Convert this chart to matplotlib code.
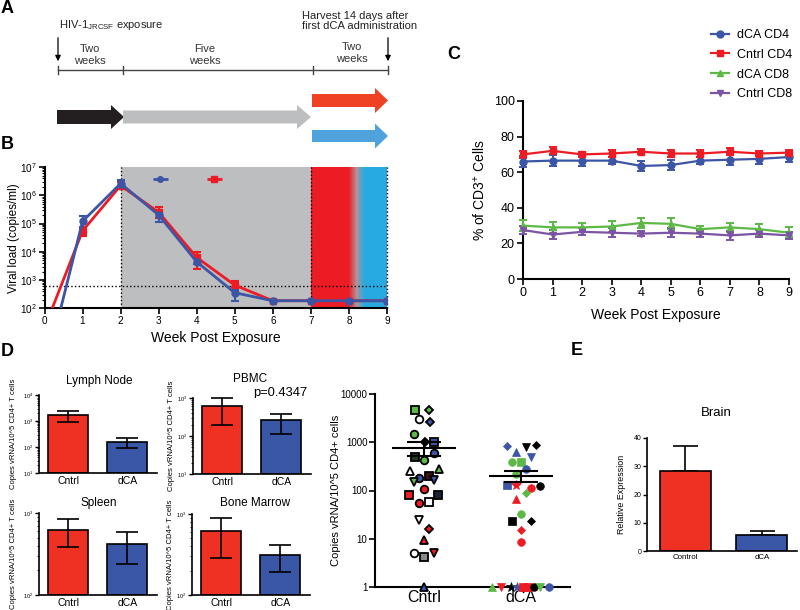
import numpy as np
import matplotlib
matplotlib.use('Agg')
import matplotlib.pyplot as plt
from matplotlib import patches
from matplotlib.lines import Line2D
from matplotlib.ticker import FuncFormatter, LogLocator, NullFormatter

plt.rcParams['font.family'] = ['Liberation Sans', 'DejaVu Sans']
plt.rcParams['mathtext.default'] = 'regular'

# colours
RED = '#ed1c24'
BLUE = '#3c55a5'
GREEN = '#5cb946'
PURPLE = '#7b55a4'
GRAY = '#bcbec0'
SKY = '#27aae1'
BAR_RED = '#ef3124'
BAR_BLUE = '#3a56a6'

# ---------------- data ----------------
# A) schematic
timeline_labels = ['Two\nweeks', 'Five\nweeks', 'Two\nweeks']

# B) viral load (copies/ml)
vl_weeks = [0, 1, 2, 3, 4, 5, 6, 7, 8, 9]
vl_cntrl = [20, 5.5e4, 2.2e6, 2.5e5, 6.3e3, 660, 185, 185, 185, 185]
vl_cntrl_lo = [20, 3.5e4, 1.8e6, 1.6e5, 2.5e3, 550, 185, 185, 185, 185]
vl_cntrl_hi = [20, 7.5e4, 3.0e6, 3.8e5, 1.0e4, 900, 185, 185, 185, 185]
vl_dca = [0.5, 1.2e5, 2.6e6, 2.0e5, 4.4e3, 355, 185, 185, 185, 185]
vl_dca_lo = [0.5, 7e4, 2.1e6, 1.1e5, 3.8e3, 185, 185, 185, 185, 185]
vl_dca_hi = [0.5, 1.9e5, 3.4e6, 2.8e5, 5.5e3, 440, 185, 185, 185, 185]
detect_limit = 600

# C) % of CD3+ cells
c_weeks = [0, 1, 2, 3, 4, 5, 6, 7, 8, 9]
dca_cd4 = [66, 66.5, 66.5, 66.5, 63.5, 64, 66.5, 67, 67.5, 68.5]
dca_cd4_err = [3, 3, 3, 2, 3, 3, 2, 3, 3, 3]
cntrl_cd4 = [70, 72, 70, 70.5, 71.5, 70.5, 70.5, 71.5, 70.5, 71]
cntrl_cd4_err = [2, 2, 1.5, 2, 1.5, 2, 2, 2, 1.5, 1.5]
dca_cd8 = [30, 29, 29, 29.5, 31.5, 31, 28, 29, 28, 26]
dca_cd8_err = [3, 3, 2.5, 3, 3, 3, 1.5, 2.5, 3, 3]
cntrl_cd8 = [27.5, 25, 26.5, 26, 25.5, 26, 25.5, 24.5, 25.5, 24.5]
cntrl_cd8_err = [2, 2.5, 2, 2.5, 1.5, 2.5, 2, 2.5, 2, 2]
c_labels = ['dCA CD4', 'Cntrl CD4', 'dCA CD8', 'Cntrl CD8']

# D) tissue vRNA bars
groups = ['Cntrl', 'dCA']
tissues = ['Lymph Node', 'PBMC', 'Spleen', 'Bone Marrow']
tissue_p = ['p=0.0111*', 'p=0.4347', 'p=0.5350', 'p=0.7086']
tissue_mean = [[1700, 155], [600, 260], [620, 418], [615, 310]]
tissue_lo = [[910, 92], [200, 110], [385, 240], [290, 190]]
tissue_hi = [[2400, 220], [1000, 380], [845, 585], [890, 415]]
tissue_ylim = [(10, 1e4), (10, 1e3), (100, 1e3), (100, 1e3)]

# D) scatter, copies vRNA/10^5 CD4+ cells
cntrl_vals = [4600, 4600, 3000, 2650, 1450, 1020, 1020, 600, 500, 425, 250, 275, 200, 178,
              147, 163, 110, 80, 80, 56, 59, 25, 15.6, 9.4, 5, 4.2, 5, 1]
cntrl_dx = [-0.09, 0.05, -0.05, 0.06, -0.10, 0.01, 0.10, 0.10, -0.09, 0.0, -0.14, 0.16, 0.05, -0.05,
            -0.10, 0.11, 0.0, -0.15, 0.15, -0.05, 0.05, -0.05, 0.05, 0.0, -0.10, 0.0, 0.10, 0.0]
cntrl_marks = ['s', 'D', 'o', 'D', 'o', 'D', 's', 'o', 's', 'o', '^', '^', 's', 'o',
               'v', 'v', 'o', 's', 's', 'o', 's', 'v', 'D', '^', 'o', 's', 'v', '^']
cntrl_cols = [GREEN, GREEN, 'white', BLUE, GREEN, 'black', BLUE, BLUE, '#1f3d1f', GREEN, 'white', GREEN,
              '#3a1212', BLUE, GREEN, BLUE, RED, RED, '#1a2233', RED, 'white', 'white', RED, RED,
              'white', '#8a8a8a', RED, BLUE]
dca_vals = [850, 630, 810, 870, 500, 390, 390, 277, 220, 130, 130, 115, 126, 87, 66, 32, 23, 23, 15, 8.7,
            1, 1, 1, 1, 1, 1, 1, 1, 1]
dca_dx = [-0.15, -0.05, 0.05, 0.15, 0.10, -0.10, 0.0, 0.05, -0.05, -0.15, -0.05, 0.10, 0.19, 0.05,
          -0.05, 0.0, -0.10, 0.10, 0.0, 0.0,
          -0.30, -0.21, -0.11, -0.04, 0.02, 0.07, 0.13, 0.19, 0.28]
dca_marks = ['D', '^', 'v', 'D', 'v', 'o', 's', 'o', 'o', 's', '*', 'o', 'o', 'D', '^', 'o', 's', 'D', 'D', 'o',
             '^', 'v', '*', '*', 's', 's', 'o', 'v', 'o']
dca_cols = [BLUE, BLUE, 'black', 'black', BLUE, GREEN, GREEN, BLUE, GREEN, BLUE, RED, RED, 'black', GREEN,
            RED, GREEN, 'black', 'black', RED, RED,
            GREEN, RED, 'black', BLUE, RED, RED, 'black', GREEN, BLUE]
scatter_mean = [760, 200]
scatter_lo = [510, 150]
scatter_hi = [1000, 250]
scatter_p = 'p=0.0487*'

# E) brain
brain_groups = ['Control', 'dCA']
brain_mean = [28.2, 5.5]
brain_err = [9.0, 1.7]
brain_p = 'p=0.0326*'

# ---------------- figure ----------------
W, H = 800, 610
fig = plt.figure(figsize=(8, 6.1), dpi=100)


def px_axes(left, top, right, bottom):
    # axes placed in pixel coordinates (origin top-left)
    return fig.add_axes([left / W, 1 - bottom / H, (right - left) / W, (bottom - top) / H])


def style_axes(ax, lw=1.5):
    for s in ['top', 'right']:
        ax.spines[s].set_visible(False)
    for s in ['left', 'bottom']:
        ax.spines[s].set_linewidth(lw)


# overlay for schematic and panel letters
bg = fig.add_axes([0, 0, 1, 1])
bg.set_xlim(0, W)
bg.set_ylim(H, 0)
bg.axis('off')

for letter, (x, y) in zip('ABCDE', [(1, 0), (1, 136), (447, 46), (1, 343), (571, 342)]):
    bg.text(x, y, letter, fontsize=13, fontweight='bold', ha='left', va='top')

# ---- A ----
bounds = [58, 123, 313, 388]
bg.plot([bounds[0], bounds[-1]], [70, 70], color='#444444', lw=1)
for bx in bounds:
    bg.plot([bx, bx], [66, 74], color='#444444', lw=1)
for txt, (x, y) in zip(timeline_labels, [(90, 55), (205, 55), (352, 53)]):
    bg.text(x, y, txt, fontsize=8, ha='center', va='center', color='#333333', linespacing=1.15)
bg.text(59, 25, 'HIV-1$_{JRCSF}$ exposure', fontsize=8, ha='left', va='center', color='#222222')
bg.text(302, 21, 'Harvest 14 days after\nfirst dCA administration', fontsize=8, ha='left',
        va='center', color='#222222', linespacing=1.1)
for ax_x in [58, 388]:
    bg.annotate('', xy=(ax_x, 64), xytext=(ax_x, 35),
                arrowprops=dict(arrowstyle='-|>', color='black', lw=0.9, mutation_scale=8))


def block_arrow(x0, x1, y, body, head, head_len, color):
    bg.add_patch(patches.FancyArrow(x0, y, x1 - x0, 0, width=body, head_width=head,
                                    head_length=head_len, length_includes_head=True,
                                    color=color, lw=0))


block_arrow(57, 124, 117, 14, 24, 13, '#231f20')
block_arrow(123, 311, 117, 13, 24, 14, GRAY)
block_arrow(312, 388, 100.5, 13, 25, 13, '#ef4123')
block_arrow(312, 388, 136, 12, 25, 13, '#4fa3dc')

# ---- B ----
axB = px_axes(44.5, 167, 387, 308.3)
axB.set_yscale('log')
axB.axvspan(2, 7, color=GRAY, lw=0, zorder=0)
# red -> greyish -> sky blue fade over the last two weeks
stops = np.array([matplotlib.colors.to_rgb(RED), (0.70, 0.58, 0.60), matplotlib.colors.to_rgb(SKY)])
edges = np.linspace(7, 9, 161)
for a, b in zip(edges[:-1], edges[1:]):
    t = np.clip(((a + b) / 2 - 8.0) / 0.4, 0, 1) * 2
    k = min(int(t), 1)
    col = stops[k] + (stops[k + 1] - stops[k]) * (t - k)
    axB.axvspan(a, b, color=col, lw=0, zorder=0)
for xv in [2, 7, 9]:
    axB.axvline(xv, color='black', ls=':', lw=1, clip_on=False, zorder=1)
axB.axhline(detect_limit, color='black', ls=':', lw=1, zorder=1)

for vals, lo, hi, col, mk in [(vl_cntrl, vl_cntrl_lo, vl_cntrl_hi, RED, 's'),
                              (vl_dca, vl_dca_lo, vl_dca_hi, BLUE, 'o')]:
    v = np.array(vals)
    axB.errorbar(vl_weeks, v, yerr=[v - np.array(lo), np.array(hi) - v], color=col, marker=mk,
                 ms=5, lw=2, elinewidth=1.5, capsize=3, capthick=1.5, zorder=3)
axB.errorbar([3.04], [3.7e6], xerr=0.2, color=BLUE, marker='o', ms=4, lw=2, capsize=0, zorder=3)
axB.errorbar([4.46], [3.7e6], xerr=0.2, color=RED, marker='s', ms=4, lw=2, capsize=0, zorder=3)

axB.set_xlim(0, 9)
axB.set_ylim(1e2, 1e7)
axB.set_xticks(range(10))
axB.yaxis.set_major_locator(LogLocator(base=10, numticks=10))
axB.yaxis.set_minor_locator(LogLocator(base=10, subs=np.arange(2, 10), numticks=10))
axB.yaxis.set_minor_formatter(NullFormatter())
style_axes(axB)
axB.tick_params(which='major', direction='out', length=4, width=1.2, labelsize=7.2, pad=1.5)
axB.tick_params(which='minor', direction='out', length=2, width=0.8)
axB.set_ylabel('Viral load (copies/ml)', fontsize=8.5)
axB.yaxis.set_label_coords(-0.088, 0.5)
axB.yaxis.label.set_va('center')
axB.set_xlabel('Week Post Exposure', fontsize=10)
axB.xaxis.set_label_coords(0.5, -0.21)
axB.xaxis.label.set_va('center')

# ---- C ----
axC = px_axes(523, 101, 789, 279)
c_series = [(dca_cd4, dca_cd4_err, BLUE, 'o'), (cntrl_cd4, cntrl_cd4_err, RED, 's'),
            (dca_cd8, dca_cd8_err, GREEN, '^'), (cntrl_cd8, cntrl_cd8_err, PURPLE, 'v')]
handles = []
for (vals, err, col, mk), lab in zip(c_series, c_labels):
    axC.errorbar(c_weeks, vals, yerr=err, color=col, marker=mk, ms=5, lw=1.6, elinewidth=1.4,
                 capsize=3, capthick=1.4, clip_on=False, zorder=3)
    handles.append(Line2D([], [], color=col, marker=mk, ms=5, lw=1.6, label=lab))
axC.set_xlim(0, 9)
axC.set_ylim(0, 100)
axC.set_xticks(range(10))
axC.set_yticks(range(0, 101, 20))
style_axes(axC)
axC.tick_params(direction='out', length=4, width=1.2, labelsize=9, pad=2)
axC.set_ylabel('% of CD3$^{+}$ Cells', fontsize=10)
axC.yaxis.set_label_coords(-0.162, 0.5)
axC.yaxis.label.set_va('center')
axC.set_xlabel('Week Post Exposure', fontsize=10)
axC.xaxis.set_label_coords(0.5, -0.2)
axC.xaxis.label.set_va('center')
fig.legend(handles=handles, loc='upper left', bbox_to_anchor=(711 / W, 1 - 29 / H), frameon=False,
           fontsize=9, handlelength=1.45, handletextpad=0.6, labelspacing=0.62, borderpad=0,
           borderaxespad=0)

# ---- D: tissue bars ----
tissue_boxes = [(39, 395, 157, 473), (193, 398, 311, 474), (39, 513, 157, 595), (192, 514, 310, 595)]
title_xy = [(99, 381), (250, 379), (99, 503), (255, 503)]
p_xy = [(96, 410), (253, 393), (96, 519), (253, 528)]
for i, name in enumerate(tissues):
    l, t, r, b = tissue_boxes[i]
    ax = px_axes(l, t, r, b)
    ax.set_yscale('log')
    lo_lim, hi_lim = tissue_ylim[i]
    m = np.array(tissue_mean[i])
    ax.bar([0, 1], m - lo_lim, bottom=lo_lim, width=0.67, color=[BAR_RED, BAR_BLUE],
           edgecolor='black', linewidth=1.2, zorder=2)
    eb = ax.errorbar([0, 1], m, yerr=[m - np.array(tissue_lo[i]), np.array(tissue_hi[i]) - m],
                     fmt='none', ecolor='black', elinewidth=1.2, capsize=8, capthick=1.2, zorder=3)
    for art in eb.lines[1] + eb.lines[2]:
        art.set_clip_on(False)
    ax.set_ylim(lo_lim, hi_lim)
    ax.set_xlim(-0.49, 1.5)
    ax.set_xticks([0, 1])
    ax.set_xticklabels(groups)
    ax.yaxis.set_major_locator(LogLocator(base=10, numticks=10))
    ax.yaxis.set_minor_locator(LogLocator(base=10, subs=np.arange(2, 10), numticks=10))
    ax.yaxis.set_minor_formatter(NullFormatter())
    style_axes(ax, lw=1.2)
    ax.tick_params(axis='y', which='major', length=3, width=1, labelsize=4, pad=1)
    ax.tick_params(axis='y', which='minor', length=1.5, width=0.6)
    ax.tick_params(axis='x', length=0, labelsize=7.5, pad=2)
    ax.set_ylabel('Copies vRNA/10^5 CD4+ T cells', fontsize=5.5)
    ax.yaxis.set_label_coords(-0.22 if i % 2 == 0 else -0.18, 0.5)
    ax.yaxis.label.set_va('center')
    bg.text(title_xy[i][0], title_xy[i][1], name, fontsize=8.5, ha='center', va='center')
    bg.text(p_xy[i][0], p_xy[i][1], tissue_p[i], fontsize=9.3, ha='left', va='center')

# ---- D: scatter ----
axS = px_axes(375, 394, 570, 587)
axS.set_yscale('log')
mark_size = {'o': 5.5, 's': 5.5, 'D': 4.3, '^': 5.5, 'v': 5.5, '*': 7}
for x0, vals, dxs, marks, cols, edge in [(0, cntrl_vals, cntrl_dx, cntrl_marks, cntrl_cols, 'black'),
                                         (1, dca_vals, dca_dx, dca_marks, dca_cols, None)]:
    for v, dx, mk, c in zip(vals, dxs, marks, cols):
        axS.plot(x0 + dx, v, marker=mk, ms=mark_size[mk], mfc=c,
                 mec=edge if edge else c, mew=1.3 if edge else 0.5, ls='none',
                 clip_on=False, zorder=4)
sm = np.array(scatter_mean)
axS.hlines(sm, [-0.33, 0.67], [0.33, 1.33], color='black', lw=1.5, zorder=5)
axS.errorbar([0, 1], sm, yerr=[sm - np.array(scatter_lo), np.array(scatter_hi) - sm], fmt='none',
             ecolor='black', elinewidth=1.5, capsize=12, capthick=1.5, zorder=5)
axS.set_xlim(-0.5, 1.5)
axS.set_ylim(1, 1e4)
axS.set_xticks([0, 1])
axS.set_xticklabels(groups)
axS.yaxis.set_major_locator(LogLocator(base=10, numticks=10))
axS.yaxis.set_minor_locator(LogLocator(base=10, subs=[], numticks=10))
axS.yaxis.set_major_formatter(FuncFormatter(lambda v, p: f'{v:g}'))
style_axes(axS)
axS.tick_params(axis='y', direction='out', length=4, width=1.2, labelsize=7, pad=1.5)
axS.tick_params(axis='x', length=0, labelsize=11.5, pad=2)
axS.set_ylabel('Copies vRNA/10^5 CD4+ cells', fontsize=8)
axS.yaxis.set_label_coords(-0.2, 0.5)
axS.yaxis.label.set_va('center')
bg.text(490, 402, scatter_p, fontsize=9.5, ha='center', va='center')

# ---- E: brain ----
axE = px_axes(647, 438, 797, 551)
axE.bar([0, 1], brain_mean, width=0.667, color=[BAR_RED, BAR_BLUE], edgecolor='black',
        linewidth=1.2, zorder=2)
axE.errorbar([0, 1], brain_mean, yerr=[[0, 0], brain_err], fmt='none', ecolor='black',
             elinewidth=1.2, capsize=9, capthick=1.2, zorder=1)
axE.set_xlim(-0.503, 1.46)
axE.set_ylim(0, 40)
axE.set_yticks(range(0, 41, 10))
axE.set_xticks([0, 1])
axE.set_xticklabels(brain_groups)
style_axes(axE, lw=1.2)
axE.tick_params(axis='y', direction='out', length=3, width=1, labelsize=5, pad=1)
axE.tick_params(axis='x', length=0, labelsize=5.7, pad=2)
axE.set_ylabel('Relative Expression', fontsize=6.4)
axE.yaxis.set_label_coords(-0.167, 0.5)
axE.yaxis.label.set_va('center')
bg.text(716, 413, 'Brain', fontsize=9.5, ha='center', va='center')
bg.text(750, 454, brain_p, fontsize=7, ha='center', va='center')

fig.savefig('out.png', dpi=100)
